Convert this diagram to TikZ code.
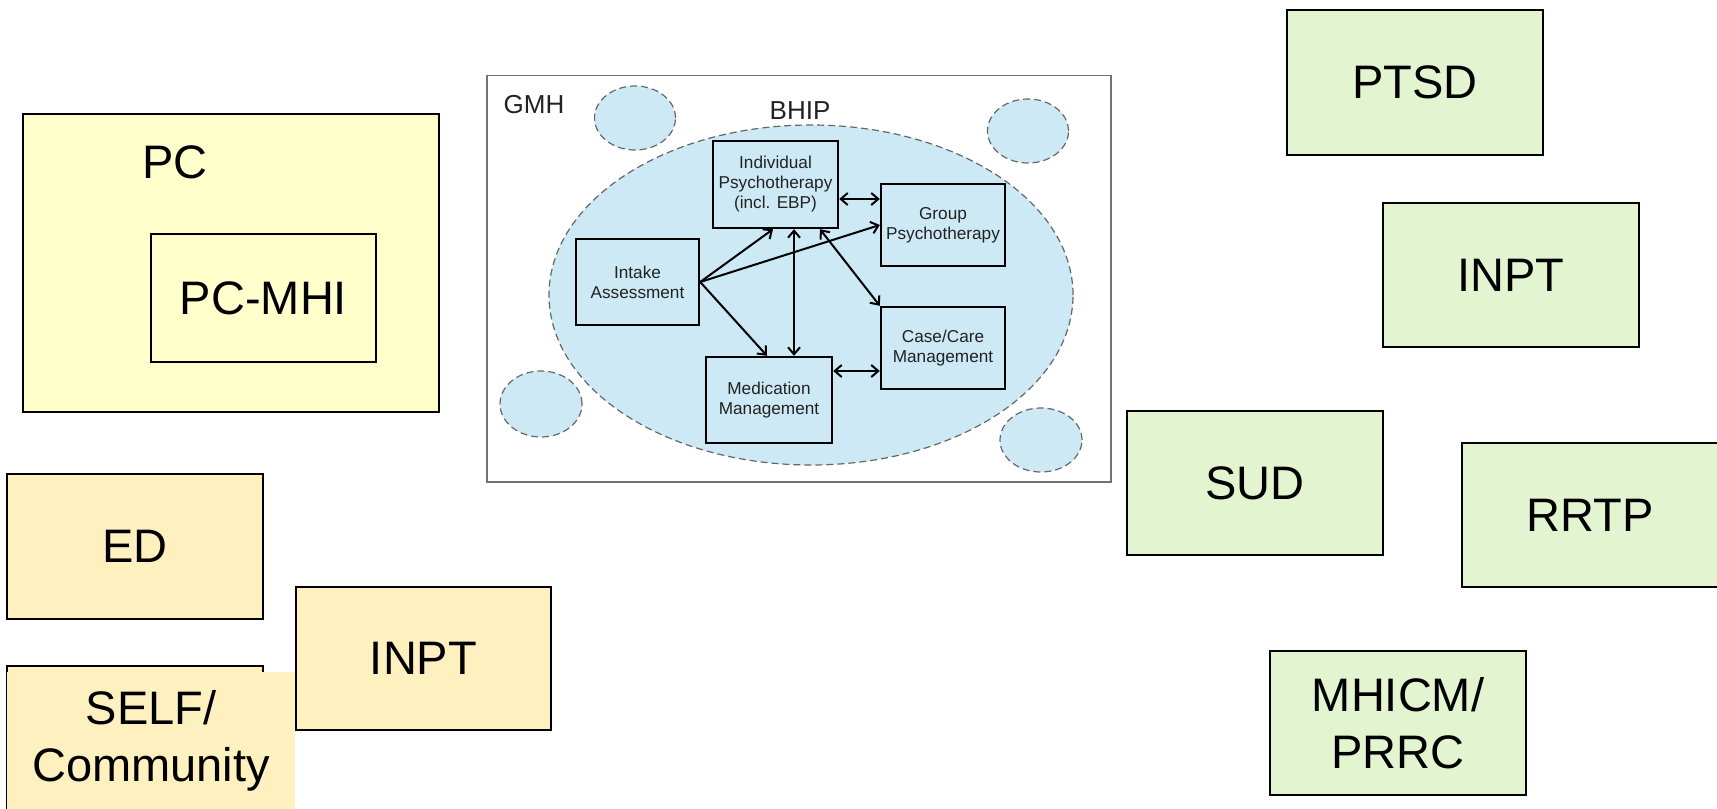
\documentclass[tikz,border=0pt]{standalone}
\usepackage{fontspec}
\setmainfont{Liberation Sans}
\usetikzlibrary{arrows.meta,shapes.geometric,calc}
\definecolor{pcyel}{HTML}{FFFFCC}
\definecolor{orng}{HTML}{FFF0C0}
\definecolor{grn}{HTML}{E3F5D0}
\definecolor{lblue}{HTML}{CDE9F5}
\definecolor{stxt}{HTML}{222222}
\begin{document}
\begin{tikzpicture}[x=0.5pt,y=-0.5pt,
  bigtxt/.style={font=\fontsize{23.5}{28.5}\selectfont, align=center},
  smalltxt/.style={font=\fontsize{8.6}{10}\selectfont, align=center, text=stxt},
  sbox/.style={rectangle, draw=black, line width=1.2pt, fill=lblue, inner sep=0pt, smalltxt},
  bubble/.style={ellipse, draw=black!60, dash pattern=on 3.5pt off 2pt, line width=0.6pt, fill=lblue, inner sep=0pt},
  obox/.style={rectangle, draw=black, line width=1pt, inner sep=0pt, minimum width=128pt, minimum height=72pt, bigtxt},
  tip/.style={Straight Barb[length=3.5pt,width=6pt,line width=1pt]},
  arr/.style={line width=1pt, -{Straight Barb[length=3.5pt,width=6pt]}},
  darr/.style={line width=1pt, {Straight Barb[length=3.5pt,width=6pt]}-{Straight Barb[length=3.5pt,width=6pt]}},
]
\useasboundingbox (0,0) rectangle (1717,808);

% left: PC
\node[obox, fill=pcyel, minimum width=208pt, minimum height=149pt] (pc) at (231,263) {};
\node[bigtxt] (pclabel) at (175,162) {PC};
\node[obox, fill=pcyel, minimum width=112.5pt, minimum height=64pt] (pcmhi) at (263.5,298) {PC-MHI};

% left: orange boxes
\node[obox, fill=orng, minimum height=72.5pt] (ed) at (134.75,546.5) {ED};
\node[obox, fill=orng, minimum width=127.5pt, minimum height=71.5pt] (inptl) at (423.5,658.5) {INPT};
\node[obox, fill=orng, minimum height=72.5pt] (self) at (134.75,738.5) {};
\node[bigtxt, fill=orng, inner sep=0pt, minimum width=144pt, minimum height=69pt] (selftxt) at (151,741) {SELF/\\Community};

% right: green boxes
\node[obox, fill=grn] (ptsd) at (1415,82.5) {PTSD};
\node[obox, fill=grn] (inptr) at (1511,275) {INPT};
\node[obox, fill=grn] (sud) at (1255,483) {SUD};
\node[obox, fill=grn] (rrtp) at (1590,515) {RRTP};
\node[obox, fill=grn] (mhicm) at (1398,723) {MHICM/\\PRRC};

% GMH
\node[rectangle, draw=black!55, line width=0.6pt, fill=white, minimum width=312pt, minimum height=203.25pt, inner sep=0pt] (gmh) at (799,278.75) {};
\node[font=\fontsize{13}{15}\selectfont, text=stxt] (gmhlabel) at (534,105) {GMH};
\node[bubble, minimum width=40.5pt, minimum height=32pt] (c1) at (635,118) {};
\node[bubble, minimum width=40.5pt, minimum height=32pt] (c2) at (1028,131) {};
\node[bubble, minimum width=41pt, minimum height=33pt] (c3) at (541,404) {};
\node[bubble, minimum width=41pt, minimum height=32pt] (c4) at (1041,440) {};
\node[bubble, minimum width=262pt, minimum height=170pt] (bhip) at (811,295) {};
\node[font=\fontsize{13}{15}\selectfont, text=stxt] (bhiplabel) at (800,111) {BHIP};

\node[sbox, minimum width=62.5pt, minimum height=43.5pt] (indiv) at (775.5,184.5) {Individual\\Psychotherapy\\(incl. EBP)};
\node[sbox, minimum width=62pt, minimum height=41pt] (group) at (943,225) {Group\\Psychotherapy};
\node[sbox, minimum width=61.5pt, minimum height=43pt] (intake) at (637.5,282) {Intake\\Assessment};
\node[sbox, minimum width=62pt, minimum height=41pt] (case) at (943,348) {Case/Care\\Management};
\node[sbox, minimum width=63pt, minimum height=43pt] (med) at (769,400) {Medication\\Management};

\coordinate (ig) at ([yshift=-7.25pt]indiv.east);
\draw[darr] (ig) -- (ig -| group.west);
\coordinate (mc) at ([yshift=14.5pt]med.east);
\draw[darr] (mc) -- (mc -| case.west);
\draw[arr] (intake.east) -- ([xshift=-1.25pt]indiv.south);
\draw[arr] (intake.east) -- (group.west);
\draw[arr] (intake.east) -- ([xshift=-1pt]med.north);
\coordinate (v1) at ([xshift=9.25pt]indiv.south);
\draw[darr] (v1) -- (v1 |- med.north);
\draw[darr] ([xshift=22.25pt]indiv.south) -- (case.north west);
\end{tikzpicture}
\end{document}
